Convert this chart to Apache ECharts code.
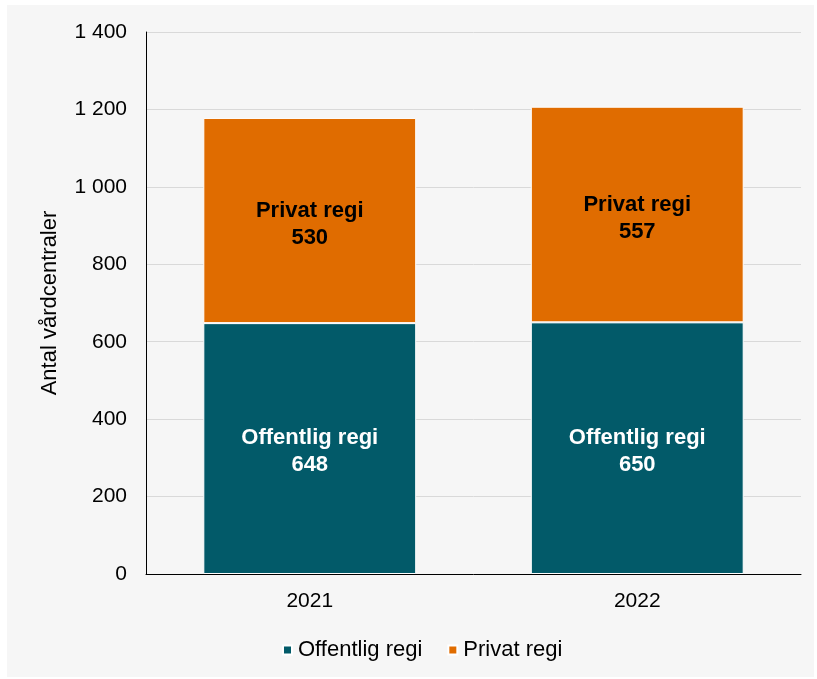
<!DOCTYPE html>
<html><head><meta charset="utf-8">
<script src="https://cdn.jsdelivr.net/npm/echarts@6/dist/echarts.min.js"></script>
<style>
html,body{margin:0;padding:0;background:#fff;}
#wrap{position:relative;width:817px;height:679px;}
#panel{position:absolute;left:7px;top:5px;width:807px;height:672px;background:#f6f6f6;}
#chart{position:absolute;left:0;top:0;width:817px;height:679px;}
</style></head>
<body><div id="wrap"><div id="panel"></div><div id="chart"></div></div>
<script>
const categories = ['2021', '2022'];
const offentlig = [648, 650];
const privat = [530, 557];
const seriesNames = ['Offentlig regi', 'Privat regi'];
const yTicks = [0, 200, 400, 600, 800, 1000, 1200, 1400];

const font = 'Liberation Sans, Arial, sans-serif';
const fmt = v => String(v).replace(/\B(?=(\d{3})+(?!\d))/g, ' ');
const chart = echarts.init(document.getElementById('chart'), null, {renderer: 'canvas'});
chart.setOption({
  backgroundColor: 'transparent',
  animation: false,
  textStyle: {fontFamily: font},
  grid: {left: 146, right: 16, top: 32, bottom: 105},
  legend: {
    top: 634, left: 277, itemWidth: 9, itemHeight: 9, itemGap: 25,
    icon: 'rect',
    textStyle: {fontSize: 22, color: '#000', fontFamily: font, padding: [0, 0, 0, 1]},
    data: seriesNames
  },
  xAxis: {
    type: 'category', data: categories,
    axisLine: {lineStyle: {color: '#000', width: 1}},
    axisTick: {show: false},
    axisLabel: {fontSize: 21, color: '#000', margin: 17, fontFamily: font}
  },
  yAxis: {
    type: 'value', min: yTicks[0], max: yTicks[yTicks.length - 1], interval: 200,
    name: 'Antal vårdcentraler', nameLocation: 'middle', nameGap: 85,
    nameTextStyle: {fontSize: 22, color: '#000', fontFamily: font},
    axisLine: {show: true, lineStyle: {color: '#000', width: 1}},
    axisTick: {show: false},
    axisLabel: {fontSize: 21, color: '#000', margin: 19, formatter: fmt, fontFamily: font},
    splitLine: {lineStyle: {color: '#d9d9d9', width: 1}}
  },
  series: [
    {
      name: seriesNames[0], type: 'bar', stack: 'a', barWidth: '65%', data: offentlig,
      itemStyle: {color: '#025a69', borderColor: '#fff', borderWidth: 1},
      label: {show: true, position: 'inside', offset: [0, 3], color: '#fff', fontWeight: 'bold', fontSize: 22, lineHeight: 27,
        fontFamily: font, formatter: p => p.seriesName + '\n' + p.value}
    },
    {
      name: seriesNames[1], type: 'bar', stack: 'a', barWidth: '65%', data: privat,
      itemStyle: {color: '#e06c00', borderColor: '#fff', borderWidth: 1},
      label: {show: true, position: 'inside', offset: [0, 4], color: '#000', fontWeight: 'bold', fontSize: 22, lineHeight: 27,
        fontFamily: font, formatter: p => p.seriesName + '\n' + p.value}
    }
  ]
});
</script></body></html>
